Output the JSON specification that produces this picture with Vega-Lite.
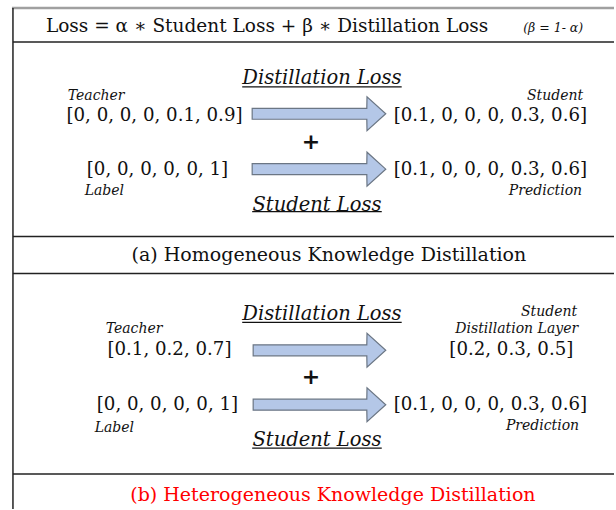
{
  "$schema": "https://vega.github.io/schema/vega-lite/v6.json",
  "width": 616,
  "height": 510,
  "autosize": {"type": "fit", "contains": "padding"},
  "padding": 0,
  "background": "white",
  "config": {"view": {"stroke": null}},
  "datasets": {
    "lines": [
      {"kind": "gray", "x": 12, "x2": 616, "y": 8, "y2": 8},
      {"kind": "black", "x": 13, "x2": 13, "y": 8, "y2": 510},
      {"kind": "black", "x": 13, "x2": 616, "y": 42, "y2": 42},
      {"kind": "black", "x": 13, "x2": 616, "y": 237, "y2": 237},
      {"kind": "dark", "x": 13, "x2": 616, "y": 274, "y2": 274},
      {"kind": "dark", "x": 13, "x2": 616, "y": 475, "y2": 475},
      {"kind": "under", "x": 243, "x2": 403, "y": 87, "y2": 87},
      {"kind": "under", "x": 253, "x2": 383, "y": 212, "y2": 212},
      {"kind": "under", "x": 243, "x2": 403, "y": 323, "y2": 323},
      {"kind": "under", "x": 253, "x2": 383, "y": 449, "y2": 449}
    ],
    "arrows": [
      {"arrow": "a1", "x": 253, "yt": 108.5, "yb": 119.5},
      {"arrow": "a1", "x": 368, "yt": 108.5, "yb": 119.5},
      {"arrow": "a1", "x": 368.2, "yt": 97, "yb": 131},
      {"arrow": "a1", "x": 387, "yt": 114, "yb": 114},
      {"arrow": "a2", "x": 253, "yt": 164, "yb": 175},
      {"arrow": "a2", "x": 368, "yt": 164, "yb": 175},
      {"arrow": "a2", "x": 368.2, "yt": 152.5, "yb": 186.5},
      {"arrow": "a2", "x": 387, "yt": 169.5, "yb": 169.5},
      {"arrow": "b1", "x": 254, "yt": 345.5, "yb": 356.5},
      {"arrow": "b1", "x": 368, "yt": 345.5, "yb": 356.5},
      {"arrow": "b1", "x": 368.2, "yt": 334, "yb": 368},
      {"arrow": "b1", "x": 387, "yt": 351, "yb": 351},
      {"arrow": "b2", "x": 254, "yt": 400, "yb": 411},
      {"arrow": "b2", "x": 368, "yt": 400, "yb": 411},
      {"arrow": "b2", "x": 368.2, "yt": 388.5, "yb": 422.5},
      {"arrow": "b2", "x": 387, "yt": 405.5, "yb": 405.5}
    ],
    "texts": [
      {"role": "title", "t": "Loss =  α ∗ Student Loss + β ∗ Distillation Loss", "x": 268, "y": 26},
      {"role": "note", "t": "(β = 1- α)", "x": 555, "y": 28},
      {"role": "head", "t": "Distillation Loss", "x": 323, "y": 78.5},
      {"role": "head", "t": "Student Loss", "x": 318, "y": 205},
      {"role": "head", "t": "Distillation Loss", "x": 323, "y": 314.5},
      {"role": "head", "t": "Student Loss", "x": 318, "y": 441},
      {"role": "tagL", "t": "Teacher", "x": 68, "y": 96},
      {"role": "tagL", "t": "Label", "x": 85, "y": 191},
      {"role": "tagL", "t": "Teacher", "x": 106, "y": 330},
      {"role": "tagL", "t": "Label", "x": 95, "y": 429},
      {"role": "tagR", "t": "Student", "x": 585, "y": 96},
      {"role": "tagR", "t": "Prediction", "x": 584, "y": 191},
      {"role": "tagR", "t": "Student", "x": 579, "y": 313},
      {"role": "tagR", "t": "Distillation Layer", "x": 580, "y": 330},
      {"role": "tagR", "t": "Prediction", "x": 581, "y": 427},
      {"role": "vec", "t": "[0, 0, 0, 0, 0.1, 0.9]", "x": 155, "y": 116},
      {"role": "vec", "t": "[0, 0, 0, 0, 0, 1]", "x": 158, "y": 170},
      {"role": "vec", "t": "[0.1, 0, 0, 0, 0.3, 0.6]", "x": 492, "y": 116},
      {"role": "vec", "t": "[0.1, 0, 0, 0, 0.3, 0.6]", "x": 492, "y": 170},
      {"role": "vec", "t": "[0.1, 0.2, 0.7]", "x": 170, "y": 351},
      {"role": "vec", "t": "[0, 0, 0, 0, 0, 1]", "x": 168, "y": 406},
      {"role": "vec", "t": "[0.2, 0.3, 0.5]", "x": 513, "y": 351},
      {"role": "vec", "t": "[0.1, 0, 0, 0, 0.3, 0.6]", "x": 492, "y": 406},
      {"role": "plus", "t": "+", "x": 312, "y": 142},
      {"role": "plus", "t": "+", "x": 312, "y": 378},
      {"role": "cap", "t": "(a) Homogeneous Knowledge Distillation", "x": 330, "y": 256},
      {"role": "capRed", "t": "(b) Heterogeneous Knowledge Distillation", "x": 334, "y": 496}
    ]
  },
  "layer": [
    {
      "data": {"name": "lines"},
      "transform": [{"filter": "datum.kind === 'gray'"}],
      "mark": {"type": "rule", "color": "#a0a0a0", "strokeWidth": 2.5},
      "encoding": {
        "x": {"field": "x", "type": "quantitative", "axis": null, "scale": {"domain": [0, 616], "nice": false, "zero": false}},
        "x2": {"field": "x2"},
        "y": {"field": "y", "type": "quantitative", "axis": null, "scale": {"domain": [0, 510], "nice": false, "zero": false, "reverse": true}},
        "y2": {"field": "y2"}
      }
    },
    {
      "data": {"name": "lines"},
      "transform": [{"filter": "datum.kind === 'black' || datum.kind === 'dark'"}],
      "mark": {"type": "rule", "color": "#222222", "strokeWidth": 1.5},
      "encoding": {
        "x": {"field": "x", "type": "quantitative", "axis": null},
        "x2": {"field": "x2"},
        "y": {"field": "y", "type": "quantitative", "axis": null},
        "y2": {"field": "y2"}
      }
    },
    {
      "data": {"name": "lines"},
      "transform": [{"filter": "datum.kind === 'under'"}],
      "mark": {"type": "rule", "color": "#111111", "strokeWidth": 1.2},
      "encoding": {
        "x": {"field": "x", "type": "quantitative", "axis": null},
        "x2": {"field": "x2"},
        "y": {"field": "y", "type": "quantitative", "axis": null},
        "y2": {"field": "y2"}
      }
    },
    {
      "data": {"name": "arrows"},
      "mark": {"type": "area", "orient": "vertical", "fill": "#b4c7e7", "fillOpacity": 1, "stroke": "#6b7684", "strokeWidth": 1.2, "interpolate": "linear"},
      "encoding": {
        "x": {"field": "x", "type": "quantitative", "axis": null},
        "y": {"field": "yt", "type": "quantitative", "axis": null},
        "y2": {"field": "yb"},
        "detail": {"field": "arrow"}
      }
    },
    {
      "data": {"name": "texts"},
      "transform": [{"filter": "datum.role === 'title'"}],
      "mark": {"type": "text", "font": "DejaVu Serif", "fontSize": 18.5, "align": "center", "baseline": "middle", "color": "#111111"},
      "encoding": {
        "x": {"field": "x", "type": "quantitative", "axis": null},
        "y": {"field": "y", "type": "quantitative", "axis": null},
        "text": {"field": "t"}
      }
    },
    {
      "data": {"name": "texts"},
      "transform": [{"filter": "datum.role === 'note'"}],
      "mark": {"type": "text", "font": "DejaVu Serif", "fontStyle": "italic", "fontSize": 12.5, "align": "center", "baseline": "middle", "color": "#111111"},
      "encoding": {
        "x": {"field": "x", "type": "quantitative", "axis": null},
        "y": {"field": "y", "type": "quantitative", "axis": null},
        "text": {"field": "t"}
      }
    },
    {
      "data": {"name": "texts"},
      "transform": [{"filter": "datum.role === 'head'"}],
      "mark": {"type": "text", "font": "DejaVu Serif", "fontStyle": "italic", "fontSize": 19.5, "align": "center", "baseline": "middle", "color": "#111111"},
      "encoding": {
        "x": {"field": "x", "type": "quantitative", "axis": null},
        "y": {"field": "y", "type": "quantitative", "axis": null},
        "text": {"field": "t"}
      }
    },
    {
      "data": {"name": "texts"},
      "transform": [{"filter": "datum.role === 'tagL'"}],
      "mark": {"type": "text", "font": "DejaVu Serif", "fontStyle": "italic", "fontSize": 14, "align": "left", "baseline": "middle", "color": "#111111"},
      "encoding": {
        "x": {"field": "x", "type": "quantitative", "axis": null},
        "y": {"field": "y", "type": "quantitative", "axis": null},
        "text": {"field": "t"}
      }
    },
    {
      "data": {"name": "texts"},
      "transform": [{"filter": "datum.role === 'tagR'"}],
      "mark": {"type": "text", "font": "DejaVu Serif", "fontStyle": "italic", "fontSize": 14, "align": "right", "baseline": "middle", "color": "#111111"},
      "encoding": {
        "x": {"field": "x", "type": "quantitative", "axis": null},
        "y": {"field": "y", "type": "quantitative", "axis": null},
        "text": {"field": "t"}
      }
    },
    {
      "data": {"name": "texts"},
      "transform": [{"filter": "datum.role === 'vec'"}],
      "mark": {"type": "text", "font": "DejaVu Serif", "fontSize": 18.2, "align": "center", "baseline": "middle", "color": "#111111"},
      "encoding": {
        "x": {"field": "x", "type": "quantitative", "axis": null},
        "y": {"field": "y", "type": "quantitative", "axis": null},
        "text": {"field": "t"}
      }
    },
    {
      "data": {"name": "texts"},
      "transform": [{"filter": "datum.role === 'plus'"}],
      "mark": {"type": "text", "font": "DejaVu Sans", "fontWeight": "bold", "fontSize": 22, "align": "center", "baseline": "middle", "color": "#111111"},
      "encoding": {
        "x": {"field": "x", "type": "quantitative", "axis": null},
        "y": {"field": "y", "type": "quantitative", "axis": null},
        "text": {"field": "t"}
      }
    },
    {
      "data": {"name": "texts"},
      "transform": [{"filter": "datum.role === 'cap'"}],
      "mark": {"type": "text", "font": "DejaVu Serif", "fontSize": 19, "align": "center", "baseline": "middle", "color": "#111111"},
      "encoding": {
        "x": {"field": "x", "type": "quantitative", "axis": null},
        "y": {"field": "y", "type": "quantitative", "axis": null},
        "text": {"field": "t"}
      }
    },
    {
      "data": {"name": "texts"},
      "transform": [{"filter": "datum.role === 'capRed'"}],
      "mark": {"type": "text", "font": "DejaVu Serif", "fontSize": 19, "align": "center", "baseline": "middle", "color": "#ff0000"},
      "encoding": {
        "x": {"field": "x", "type": "quantitative", "axis": null},
        "y": {"field": "y", "type": "quantitative", "axis": null},
        "text": {"field": "t"}
      }
    }
  ]
}
